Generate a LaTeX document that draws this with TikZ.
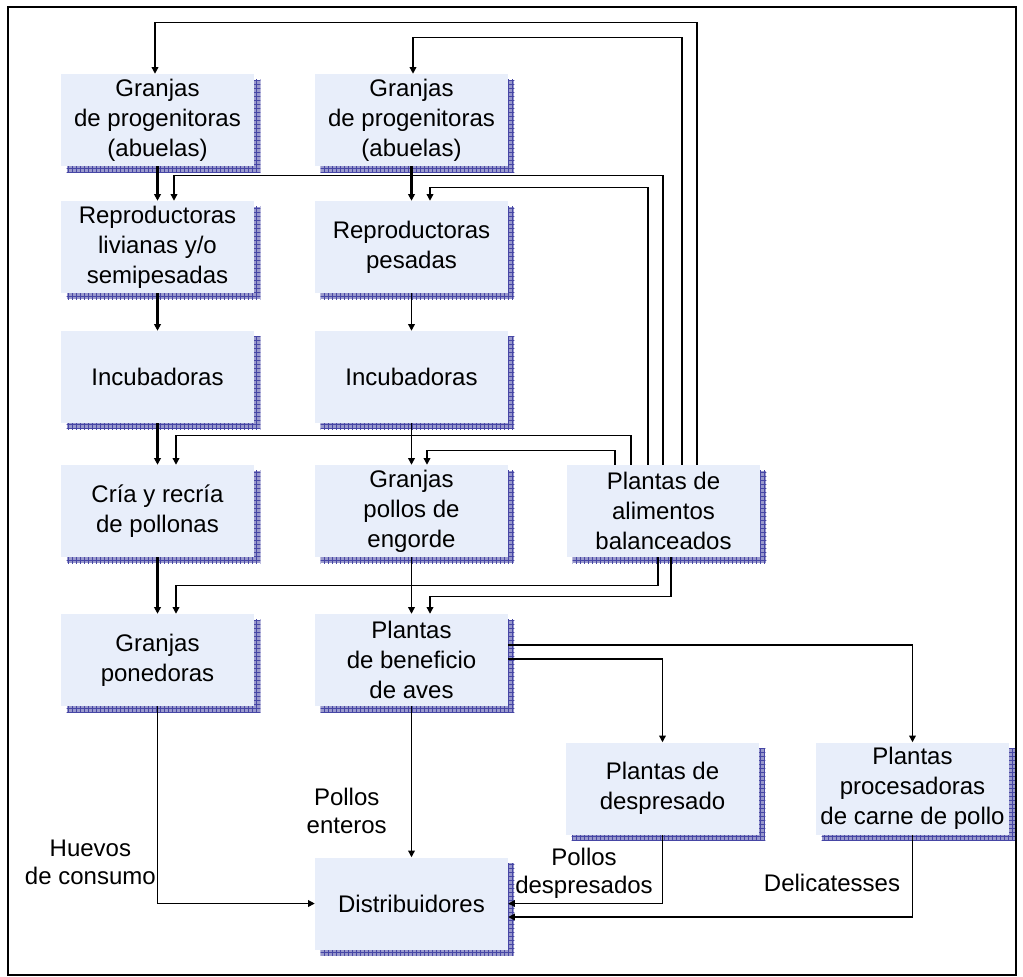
\documentclass[tikz,border=0pt]{standalone}
\usepackage{fontspec}
\setmainfont{Liberation Sans}
\usetikzlibrary{arrows.meta, calc, backgrounds, patterns}
\definecolor{boxfill}{RGB}{232,238,250}
\definecolor{shadeblue}{RGB}{153,153,204}
\definecolor{gridblue}{RGB}{70,70,165}
\tikzset{stage/.style={rectangle,fill=boxfill,minimum width=144.75pt,minimum height=69pt,inner sep=0pt,align=center,font=\fontsize{18}{22.5}\selectfont}}

\begin{document}
\begin{tikzpicture}[
        x=0.75pt, y=-0.75pt,
        >={Triangle[length=5pt,width=5pt]},
        flow/.style={
            ->,
            line width=1.6pt,
        },
        link/.style={
            ->,
            line width=1pt,
        },
        dropbox/.style={
            fill=shadeblue,
            postaction={pattern=grid, pattern color=gridblue},
        },
        lbl/.style={
            align=center,
            inner sep=0pt,
            font=\fontsize{18}{21}\selectfont
        },
    ]

    \useasboundingbox (0,0) rectangle (1023,976);
    \draw [line width=1.4pt] (8,7) rectangle (1016,975);

    % Boxes, first and second column
    \node [stage] (abu1) at (157.5,120) {Granjas\\de progenitoras\\(abuelas)};
    \node [stage] (abu2) at (411.5,120) {Granjas\\de progenitoras\\(abuelas)};
    \node [stage] (repl) at (157.5,247) {Reproductoras\\livianas y/o\\semipesadas};
    \node [stage] (repp) at (411.5,247) {Reproductoras\\pesadas};
    \node [stage] (inc1) at (157.5,377) {Incubadoras};
    \node [stage] (inc2) at (411.5,377) {Incubadoras};
    \node [stage] (cria) at (157.5,511) {Cría y recría\\de pollonas};
    \node [stage] (engo) at (411.5,511) {Granjas\\pollos de\\engorde};
    \node [stage] (alim) at (663.5,511) {Plantas de\\alimentos\\balanceados};
    \node [stage] (pone) at (157.5,660) {Granjas\\ponedoras};
    \node [stage] (bene) at (411.5,660) {Plantas\\de beneficio\\de aves};
    \node [stage] (desp) at (662.5,788.5) {Plantas de\\despresado};
    \node [stage] (proc) at (912.5,788.5) {Plantas\\procesadoras\\de carne de pollo};
    \node [stage] (dist) at (411.5,903.5) {Distribuidores};

    % Shadows behind the boxes
    \begin{scope}[on background layer]
        \foreach \n in {abu1,abu2,repl,repp,inc1,inc2,cria,engo,alim,pone,bene,desp,proc,dist}
            \path [dropbox] ($(\n.south west)+(6,6)$) rectangle ($(\n.north east)+(6,6)$);
    \end{scope}

    % Main flow
    \draw [flow] (abu1) -- (repl);
    \draw [flow] (repl) -- (inc1);
    \draw [flow] (inc1) -- (cria);
    \draw [flow] (cria) -- (pone);
    \draw [flow] (abu2) -- (repp);
    \draw [link] (repp) -- (inc2);
    \draw [link] (inc2) -- (engo);
    \draw [link] (engo) -- (bene);
    \draw [link] (bene) -- (dist);

    % Feed lines from alim
    \draw [link] ($(alim.north)+(33.5,0)$) |- ($(abu1.north)+(-2.5,-51)$) -- ($(abu1.north)+(-2.5,0)$);
    \draw [link] ($(alim.north)+(18.5,0)$) |- ($(abu2.north)+(1.5,-36)$) -- ($(abu2.north)+(1.5,0)$);
    \draw [link] ($(alim.north)+(-0.5,0)$) |- ($(repl.north)+(16.5,-25)$) -- ($(repl.north)+(16.5,0)$);
    \draw [link] ($(alim.north)+(-15.5,0)$) |- ($(repp.north)+(18.5,-13)$) -- ($(repp.north)+(18.5,0)$);
    \draw [link] ($(alim.north)+(-32.5,0)$) |- ($(cria.north)+(18.5,-29)$) -- ($(cria.north)+(18.5,0)$);
    \draw [link] ($(alim.north)+(-48.5,0)$) |- ($(engo.north)+(15.5,-14)$) -- ($(engo.north)+(15.5,0)$);
    \draw [link] ($(alim.south)+(-5.5,0)$) |- ($(pone.north)+(18.5,-28)$) -- ($(pone.north)+(18.5,0)$);
    \draw [link] ($(alim.south)+(7.5,0)$) |- ($(bene.north)+(18.5,-17)$) -- ($(bene.north)+(18.5,0)$);

    % Processing and distribution
    \draw [link] ($(bene.east)+(0,-15)$) -| (proc);
    \draw [link] ($(bene.east)+(0,-1)$) -| (desp);
    \draw [link] (pone) |- (dist);
    \draw [link] (desp) |- (dist);
    \draw [link] (proc) |- ($(dist.east)+(0,13.5)$);

    % Labels
    \node [lbl, anchor=east] (huevos) at (156,862) {Huevos\\de consumo};
    \node [lbl, anchor=east] (enteros) at (387,811) {Pollos\\enteros};
    \node [lbl] (despresados) at (584,873) {Pollos\\despresados};
    \node [lbl] (delicat) at (832,883) {Delicatesses};

\end{tikzpicture}
\end{document}
